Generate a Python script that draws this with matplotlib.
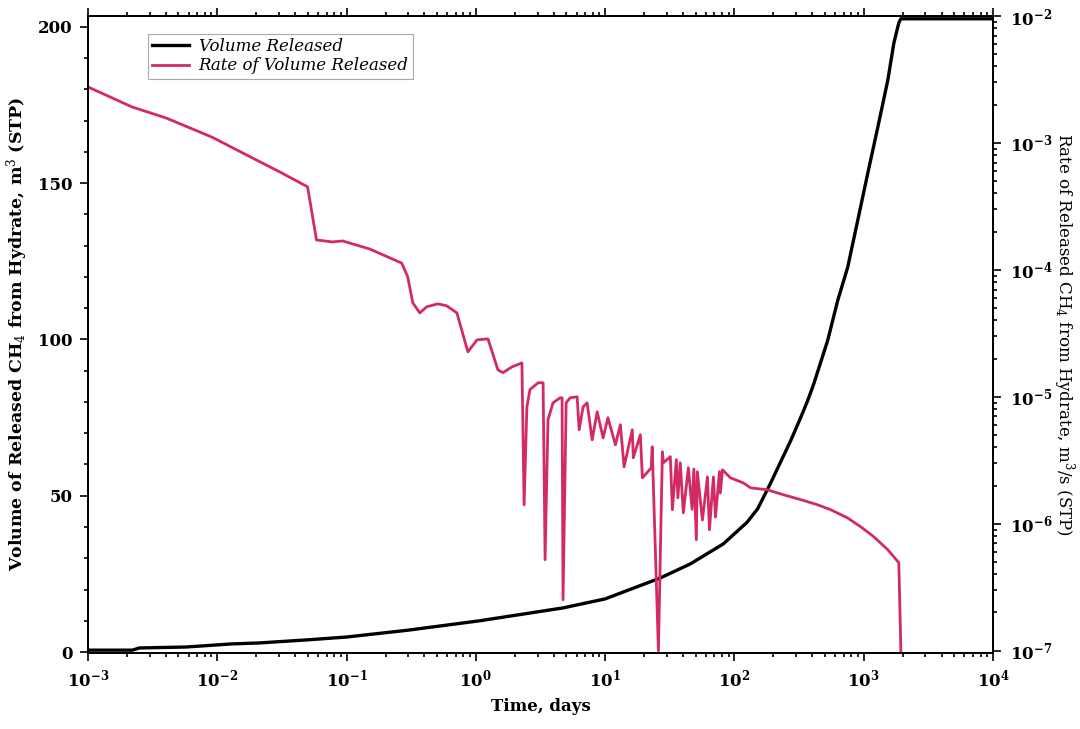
# Methane release plot - volume and rate of CH4 released from hydrate

# ------------------------------------------------------
# IMPORTS
# ------------------------------------------------------

import numpy as np
import matplotlib
matplotlib.use('Agg')
import matplotlib.pyplot as plt
from matplotlib.ticker import MultipleLocator, LogLocator, FuncFormatter, NullFormatter
from matplotlib.lines import Line2D

# ------------------------------------------------------
# INPUTS
# ------------------------------------------------------

# Cumulative volume released, m3 (STP)
timeVol = [1e-3, 2.2e-3, 2.5e-3, 5.7e-3, 1.3e-2, 2.1e-2, 5e-2, 0.1, 0.3, 1.07, 4.7, 10,
           26.7, 45.6, 82, 125, 151, 190, 272, 325, 368, 409, 526, 629, 751, 898, 1074, 1284, 1535,
           1710, 1867, 1936, 1e4]
volume = [0.6, 0.6, 1.3, 1.6, 2.6, 2.9, 3.9, 4.8, 7.0, 10.0, 14.1, 17.0,
          23.7, 28.2, 34.6, 41.5, 45.8, 54.0, 67.6, 75.0, 80.4, 85.6, 99.7, 112.5, 123.1, 138.1, 153.2,
          167.9, 183.0, 194.9, 201.3, 202.6, 202.6]

# Rate of volume released, m3/s (STP)
timeRate = [1e-3, 2.19e-3, 4.03e-3, 9.1e-3, 0.0168, 0.0303, 0.0499, 0.0585, 0.0778, 0.093,
            0.151, 0.267, 0.297, 0.325, 0.368, 0.417, 0.507, 0.595, 0.713, 0.867,
            1.02, 1.24, 1.48, 1.62, 1.90, 2.27, 2.36, 2.48, 2.62, 3.03,
            3.31, 3.43, 3.61, 3.95, 4.48, 4.64, 4.72, 4.99, 5.35, 6.07,
            6.29, 6.75, 7.25, 7.93, 8.67, 9.64, 10.5, 12.0, 13.1, 14.0,
            16.2, 16.5, 18.7, 19.4, 22.7, 23.1, 25.8, 27.7, 28.2, 31.9,
            33.1, 35.5, 36.5, 38.1, 40.2, 44.0, 47.0, 48.5, 50.7, 51.6, 56.5, 61.8, 64.0, 68.7,
            71.3, 76.5, 77.8, 80.7, 93.1, 117, 133, 180, 240, 325,
            440, 555, 751, 948, 1196, 1535, 1867, 1936]
rate = [2.76e-3, 1.92e-3, 1.57e-3, 1.11e-3, 8.05e-4, 5.92e-4, 4.51e-4, 1.72e-4, 1.66e-4, 1.69e-4,
        1.46e-4, 1.13e-4, 8.81e-5, 5.50e-5, 4.58e-5, 5.12e-5, 5.40e-5, 5.21e-5, 4.58e-5, 2.26e-5,
        2.81e-5, 2.86e-5, 1.63e-5, 1.55e-5, 1.72e-5, 1.85e-5, 1.41e-6, 8.34e-6, 1.14e-5, 1.29e-5,
        1.29e-5, 5.21e-7, 6.59e-6, 8.97e-6, 9.82e-6, 9.82e-6, 2.52e-7, 8.97e-6, 9.82e-6, 1.0e-5,
        5.50e-6, 8.34e-6, 8.97e-6, 4.58e-6, 7.62e-6, 4.75e-6, 6.84e-6, 4.19e-6, 6.03e-6, 2.81e-6,
        5.50e-6, 3.31e-6, 5.03e-6, 2.30e-6, 2.76e-6, 4.04e-6, 1.0e-7, 3.69e-6, 3.02e-6, 3.38e-6,
        1.29e-6, 3.20e-6, 1.60e-6, 3.02e-6, 1.22e-6, 2.76e-6, 1.30e-6, 2.70e-6, 7.48e-7, 2.57e-6, 1.07e-6,
        2.34e-6, 8.97e-7, 2.34e-6,
        1.13e-6, 2.57e-6, 1.75e-6, 2.66e-6, 2.30e-6, 2.10e-6, 1.92e-6, 1.85e-6, 1.69e-6, 1.55e-6,
        1.41e-6, 1.29e-6, 1.11e-6, 9.46e-7, 7.90e-7, 6.24e-7, 4.93e-7, 1.0e-7]

volTicks = [0, 50, 100, 150, 200]
timeTicks = [1e-3, 1e-2, 1e-1, 1e0, 1e1, 1e2, 1e3, 1e4]
rateTicks = [1e-7, 1e-6, 1e-5, 1e-4, 1e-3, 1e-2]

# ------------------------------------------------------
# OUTPUTS
# ------------------------------------------------------

font = {'family': 'DejaVu Serif', 'weight': 'normal', 'size': 12}
plt.rc('font', **font)
plt.rcParams['mathtext.fontset'] = 'dejavuserif'

redColor = '#D42A62'

fig = plt.figure(figsize=(10.8, 7.29), dpi=100)
ax1 = fig.add_axes([0.0815, 0.1043, 0.838, 0.8738])
ax2 = ax1.twinx()

# Volume on the left axis
ax1.plot(timeVol, volume, '-', color='k', linewidth=2.4, solid_joinstyle='round')
ax1.set_xscale('log')
ax1.set_xlim(1e-3, 1e4)
ax1.set_ylim(-0.3, 203.5)
ax1.set_yticks(volTicks)
ax1.yaxis.set_minor_locator(MultipleLocator(10))

# Rate on the right axis
ax2.plot(timeRate, rate, '-', color=redColor, linewidth=2.0, solid_joinstyle='round')
ax2.set_yscale('log')
ax2.set_ylim(9.6e-8, 1e-2)

# Tick formatting
def powLabel(val, pos):
    e = int(np.round(np.log10(val)))
    return r'$\mathbf{10^{%d}}$' % e

ax1.set_xticks(timeTicks)
ax1.xaxis.set_minor_locator(LogLocator(base=10, subs=np.arange(2, 10), numticks=20))
ax1.xaxis.set_major_formatter(FuncFormatter(powLabel))
ax1.xaxis.set_minor_formatter(NullFormatter())
ax2.set_yticks(rateTicks)
ax2.yaxis.set_minor_locator(LogLocator(base=10, subs=np.arange(2, 10), numticks=20))
ax2.yaxis.set_major_formatter(FuncFormatter(powLabel))
ax2.yaxis.set_minor_formatter(NullFormatter())
ax1.set_xlim(1e-3, 1e4)
ax2.set_ylim(9.6e-8, 1e-2)

ax1.tick_params(axis='both', which='both', direction='out', top=True, width=1.2)
ax1.tick_params(which='major', length=6, labelsize=12, pad=5)
ax1.tick_params(which='minor', length=3)
ax1.tick_params(axis='y', right=False)
ax2.tick_params(axis='y', which='both', direction='out', width=1.2)
ax2.tick_params(which='major', length=6, labelsize=12, pad=6)
ax2.tick_params(which='minor', length=3)
for lab in ax1.get_yticklabels():
    lab.set_fontweight('bold')

for ax in [ax1, ax2]:
    for sp in ax.spines.values():
        sp.set_linewidth(1.3)

# Axis labels
ax1.set_xlabel('Time, days', fontsize=12, fontweight='bold', labelpad=6)
ax1.set_ylabel('Volume of Released CH$_4$ from Hydrate, m$^3$ (STP)', fontsize=12.5,
               fontweight='bold', labelpad=6)
ax2.set_ylabel('Rate of Released CH$_4$ from Hydrate, m$^3$/s (STP)', fontsize=12,
               rotation=270, labelpad=18)

# Legend
lns = [Line2D([], [], color='k', linewidth=2.4), Line2D([], [], color=redColor, linewidth=2.0)]
labs = ['Volume Released', 'Rate of Volume Released']
leg = ax2.legend(lns, labs, loc='upper left', bbox_to_anchor=(0.066, 0.972), borderaxespad=0,
                 fancybox=False, framealpha=1, edgecolor='#AAAAAA', handlelength=2.2,
                 prop={'family': 'DejaVu Serif', 'style': 'italic', 'size': 12},
                 borderpad=0.25, labelspacing=0.15, handletextpad=0.6)
leg.get_frame().set_linewidth(0.8)

fig.savefig('out.png', dpi=100)
plt.close('all')
